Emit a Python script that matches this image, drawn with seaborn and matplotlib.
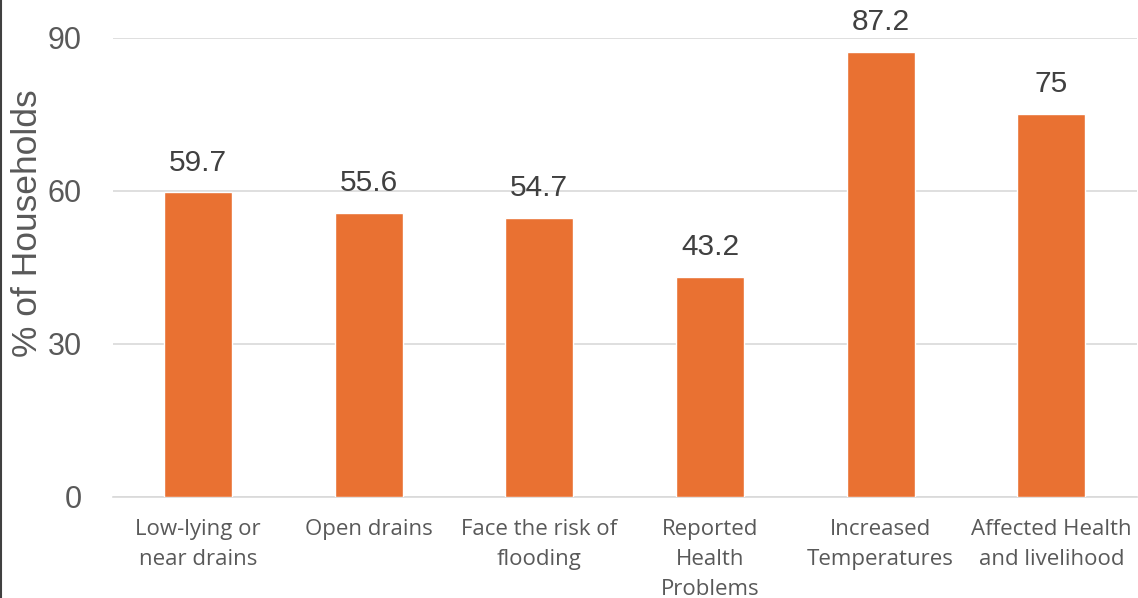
import matplotlib
matplotlib.use("Agg")
from matplotlib import pyplot as plt
from matplotlib.lines import Line2D
import seaborn as sns
import pandas as pd

# data
categories = ["Low-lying or\nnear drains", "Open drains", "Face the risk of\nflooding",
              "Reported\nHealth\nProblems", "Increased\nTemperatures", "Affected Health\nand livelihood"]
values = [59.7, 55.6, 54.7, 43.2, 87.2, 75]
value_labels = ["59.7", "55.6", "54.7", "43.2", "87.2", "75"]
yticks = [0, 30, 60, 90]

sns.set_theme(style="white")
plt.rcParams['font.family'] = ['Open Sans', 'DejaVu Sans']
num_font = ['Liberation Sans', 'DejaVu Sans']
text_color = "#595959"

df = pd.DataFrame({"category": categories, "value": values})

fig = plt.figure(figsize=(11.38, 5.98), dpi=100)
ax = fig.add_axes([0.099, 0.169, 0.8998, 0.7675])

sns.barplot(data=df, x="category", y="value", color="#E97132", saturation=1,
            width=0.4, ax=ax, zorder=3)

ax.set_ylim(0, 90)
ax.set_yticks(yticks)
ax.yaxis.grid(True, color="#D9D9D9", linewidth=1.2, zorder=0)
ax.set_axisbelow(True)
for s in ["top", "right", "left"]:
    ax.spines[s].set_visible(False)
ax.spines["bottom"].set_color("#D9D9D9")
ax.spines["bottom"].set_linewidth(1.2)
ax.tick_params(axis="y", length=0, labelsize=22, labelcolor=text_color, pad=22)
ax.tick_params(axis="x", length=0, labelsize=16, labelcolor=text_color, pad=16)
for lbl in ax.get_yticklabels():
    lbl.set_family(num_font)
for lbl in ax.get_xticklabels():
    lbl.set_linespacing(1.55)
ax.set_xlabel("")
ax.set_ylabel("")

for i, (v, t) in enumerate(zip(values, value_labels)):
    ax.annotate(t, (i, v), xytext=(0, 11.5), textcoords="offset points",
                ha="center", va="bottom", fontsize=21.5, family=num_font,
                color="#404040", annotation_clip=False)

fig.text(0.024, 0.627, "% of Households", rotation=90, ha="center", va="center",
         fontsize=25.5, family=num_font, color=text_color)

fig.add_artist(Line2D([0.001, 0.001], [0, 1], transform=fig.transFigure,
                      color="#404040", linewidth=1.5))

fig.savefig("out.png", dpi=100)
